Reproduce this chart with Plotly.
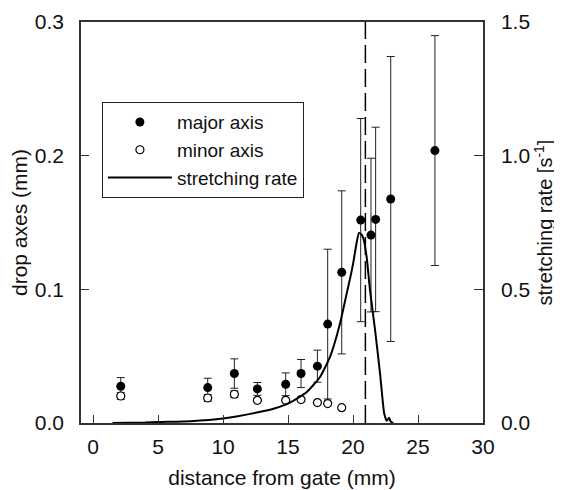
import plotly.graph_objects as go

# Major axis (filled circles)
major_x = [2.13, 8.82, 10.87, 12.64, 14.82, 16.0, 17.26, 18.05, 19.13, 20.59, 21.38, 21.74, 22.9, 26.3]
major_y = [0.0275, 0.0265, 0.037, 0.0255, 0.029, 0.037, 0.0425, 0.074, 0.1127, 0.1518, 0.1406, 0.1523, 0.1676, 0.2038]
major_err = [0.0065, 0.007, 0.011, 0.0048, 0.0085, 0.0105, 0.012, 0.056, 0.061, 0.076, 0.0575, 0.069, 0.1066, 0.086]

# Minor axis (open circles)
minor_x = [2.13, 8.82, 10.87, 12.64, 14.82, 16.0, 17.26, 18.05, 19.13]
minor_y = [0.0202, 0.0187, 0.0215, 0.017, 0.017, 0.0175, 0.0153, 0.0145, 0.0115]
minor_err = [0.0025, 0.0025, 0.0025, 0.0, 0.0, 0.0, 0.0, 0.0, 0.0]

# Stretching rate curve (right axis, s^-1)
rate_x = [1.5, 4.0, 5.0, 7.5, 10.0, 12.6, 14.0, 15.15, 16.44, 17.46, 18.23, 19.0, 19.51, 19.77,
          20.02, 20.28, 20.46, 20.65, 20.8, 21.05, 21.3, 21.69, 22.08, 22.4, 22.6, 22.77, 22.9, 23.1]
rate_y = [0.0, 0.002, 0.004, 0.007, 0.017, 0.039, 0.055, 0.076, 0.116, 0.172, 0.247, 0.372, 0.484, 0.54,
          0.60, 0.675, 0.711, 0.705, 0.69, 0.62, 0.50, 0.35, 0.185, 0.035, 0.008, 0.02, 0.005, 0.0]

# Dashed reference position (mm)
dashed_x = 20.95

FONT = "Liberation Sans, Arial, Helvetica, sans-serif"
INK = "#111111"

fig = go.Figure()

fig.add_trace(go.Scatter(
    x=major_x, y=major_y, mode="markers", name="major axis",
    marker=dict(symbol="circle", size=9, color="black"),
    error_y=dict(type="data", array=major_err, visible=True, color="#222222", thickness=1, width=4),
))
fig.add_trace(go.Scatter(
    x=minor_x, y=minor_y, mode="markers", name="minor axis",
    marker=dict(symbol="circle", size=8, color="white", line=dict(color="black", width=1.2)),
    error_y=dict(type="data", array=minor_err, visible=True, color="#222222", thickness=1, width=4),
))
fig.add_trace(go.Scatter(
    x=rate_x, y=rate_y, mode="lines", name="stretching rate", yaxis="y2",
    line=dict(color="black", width=2, shape="spline", smoothing=0.5),
))

fig.add_shape(type="line", xref="x", yref="paper", x0=dashed_x, x1=dashed_x, y0=0, y1=1,
              line=dict(color="black", width=1.5, dash="18px,6px"))

# The page body has an 8px margin, so the figure is sized 554x482 to fill the 562x490 window
fig.update_layout(
    width=554, height=482,
    margin=dict(l=73, r=79, t=14, b=67, autoexpand=False),
    paper_bgcolor="white", plot_bgcolor="white",
    font=dict(family=FONT, size=21, color=INK),
    showlegend=True,
    legend=dict(
        x=0.052, y=0.80, xanchor="left", yanchor="top",
        bgcolor="white", bordercolor="#222222", borderwidth=1,
        font=dict(size=19, color=INK), tracegroupgap=0, itemwidth=64,
        entrywidth=203, entrywidthmode="pixels",
    ),
    xaxis=dict(
        range=[-0.93, 30], tick0=0, dtick=5, ticks="inside", ticklen=8, tickcolor="#333",
        showline=True, linecolor="#333", linewidth=1.5, mirror=True,
        showgrid=False, zeroline=False, automargin=False,
        title=dict(text="distance from gate (mm)", font=dict(size=21), standoff=13),
        tickfont=dict(size=21), ticklabelstandoff=4,
    ),
    yaxis=dict(
        range=[0, 0.3], tick0=0, dtick=0.1, tickformat=".1f", ticks="inside", ticklen=8, tickcolor="#333",
        showline=True, linecolor="#333", linewidth=1.5,
        showgrid=False, zeroline=False, automargin=False,
        title=dict(text="drop axes (mm)", font=dict(size=21), standoff=8),
        tickfont=dict(size=21), ticklabelstandoff=11,
    ),
    yaxis2=dict(
        range=[0, 1.5], tick0=0, dtick=0.5, tickformat=".1f", ticks="inside", ticklen=9, tickcolor="#333",
        overlaying="y", side="right",
        showline=True, linecolor="#333", linewidth=1.5,
        showgrid=False, zeroline=False, automargin=False,
        title=dict(text="stretching rate [s<sup>-1</sup>]", font=dict(size=20), standoff=9),
        tickfont=dict(size=21), ticklabelstandoff=12,
    ),
)

fig.write_html("out.html")
